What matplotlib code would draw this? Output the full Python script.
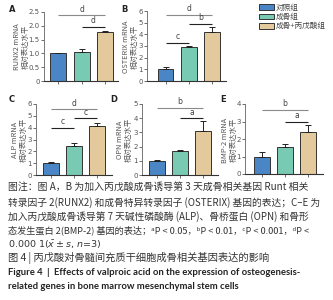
import matplotlib
matplotlib.use('Agg')
import matplotlib.pyplot as plt
from matplotlib.patches import Patch

plt.rcParams['font.family'] = ['Noto Sans CJK SC', 'DejaVu Sans']

W, H = 333, 300

grupos = ['对照组', '成骨组', '成骨+丙戊酸组']
cores = ['#4a85c6', '#79cab2', '#e3c99b']

# valores (média, erro)
runx2 = [1.00, 1.04, 1.77]
runx2_err = [0.03, 0.12, 0.05]
osterix = [1.00, 2.95, 4.20]
osterix_err = [0.17, 0.05, 0.42]
alp = [1.00, 2.45, 4.18]
alp_err = [0.12, 0.25, 0.22]
opn = [1.00, 1.72, 3.10]
opn_err = [0.05, 0.05, 0.72]
bmp2 = [1.00, 1.56, 2.42]
bmp2_err = [0.27, 0.17, 0.37]

# significância: (i, j, altura, letra)
sig_a = [(0, 2, 2.38, 'd'), (1, 2, 1.95, 'd')]
sig_b = [(0, 2, 5.70, 'd'), (1, 2, 4.88, 'b'), (0, 1, 3.30, 'c')]
sig_c = [(0, 2, 5.55, 'd'), (1, 2, 4.78, 'c'), (0, 1, 3.98, 'c')]
sig_d = [(0, 2, 4.70, 'b'), (1, 2, 3.98, 'a')]
sig_e = [(0, 2, 3.65, 'b'), (1, 2, 3.00, 'a')]

paineis = [
    # letra, gene, valores, erros, sig, ymax, yticks, caixa px (esq, dir, topo, base), xlim, pos letra, pos ylabel
    ('A', 'RUNX2', runx2, runx2_err, sig_a, 2.5, [0, 0.5, 1.0, 1.5, 2.0, 2.5],
     (44, 118, 12, 81), (-0.6, 2.55), (12, 10), (21, 47)),
    ('B', 'OSTERIX', osterix, osterix_err, sig_b, 6, range(0, 7),
     (147, 226, 11, 81), (-0.8, 2.6), (124, 10), (130, 47)),
    ('C', 'ALP', alp, alp_err, sig_c, 6, range(0, 7),
     (36, 112, 104, 175), (-0.62, 2.62), (12, 99), (19, 140)),
    ('D', 'OPN', opn, opn_err, sig_d, 5, range(0, 6),
     (142, 218, 104, 175), (-0.65, 2.65), (114, 100), (124, 140)),
    ('E', 'BMP-2', bmp2, bmp2_err, sig_e, 4, range(0, 5),
     (245, 323, 104, 174), (-0.74, 2.65), (223, 100), (229, 140)),
]

fig = plt.figure(figsize=(W / 100, H / 100), dpi=100)

for letra, gene, vals, errs, sig, ymax, yt, caixa, xlim, pl, py in paineis:
    l, r, t, b = caixa
    ax = fig.add_axes([l / W, 1 - b / H, (r - l) / W, (b - t) / H])
    x = range(len(vals))
    ax.bar(x, vals, width=0.68, color=cores, edgecolor='#333333', linewidth=0.7, zorder=2)
    ax.errorbar(x, vals, yerr=[[0] * len(errs), errs], fmt='none', ecolor='#222222',
                elinewidth=0.7, capsize=2.2, capthick=0.7, zorder=3)
    for i, j, h, s in sig:
        cor = '#8a8a8a' if (i, j) == (0, 2) else '#222222'
        ax.plot([i, j], [h, h], color=cor, lw=0.8, solid_capstyle='butt', clip_on=False)
        ax.text((i + j) / 2, h + ymax * 0.025, s, ha='center', va='bottom', fontsize=5.5,
                color='#444444', family='DejaVu Sans')
    ax.set_ylim(0, ymax)
    ax.set_xlim(*xlim)
    ax.set_yticks(list(yt))
    if letra == 'A':
        ax.set_yticklabels(['0', '0.5', '1.0', '1.5', '2.0', '2.5'])
    ax.set_xticks(list(x))
    ax.set_xticklabels([])
    for lado in ['top', 'right']:
        ax.spines[lado].set_visible(False)
    ax.spines['left'].set_color('#777777')
    ax.spines['bottom'].set_color('#333333')
    ax.spines['left'].set_linewidth(0.7)
    ax.spines['bottom'].set_linewidth(0.8)
    ax.tick_params(axis='y', labelsize=5, length=2, width=0.6, pad=1, colors='#555555')
    ax.tick_params(axis='x', length=2, width=0.6, colors='#555555')
    for lab in ax.get_yticklabels():
        lab.set_family('DejaVu Sans')
    fig.text(pl[0] / W, 1 - pl[1] / H, letra, fontsize=6, fontweight='bold',
             ha='center', va='center', family='DejaVu Sans', color='#222222')
    fig.text(py[0] / W, 1 - py[1] / H, gene + ' mRNA\n相对表达水平', rotation=90,
             fontsize=5.3, ha='center', va='center', linespacing=1.15, color='#555555')

handles = [Patch(facecolor=c, edgecolor='#333333', linewidth=0.7) for c in cores]
fig.legend(handles, grupos, loc='upper left', bbox_to_anchor=(259 / W, 1 - 4 / H),
           frameon=False, fontsize=5.5, handlelength=1.9, handleheight=0.8,
           handletextpad=0.3, labelspacing=0.15, borderpad=0, borderaxespad=0,
           labelcolor='#444444')

legenda = [
    '图注：图 A，B 为加入丙戊酸成骨诱导第 3 天成骨相关基因 Runt 相关',
    '转录因子 2(RUNX2) 和成骨特异转录因子 (OSTERIX) 基因的表达；C–E 为',
    '加入丙戊酸成骨诱导第 7 天碱性磷酸酶 (ALP)、骨桥蛋白 (OPN) 和骨形',
    '态发生蛋白 2(BMP-2) 基因的表达；ᵃP < 0.05，ᵇP < 0.01，ᶜP < 0.001，ᵈP <',
]
tamanhos = [7.1, 7.0, 7.0, 6.6]
y0 = 188
for k, linha in enumerate(legenda):
    fig.text(8 / W, 1 - (y0 + 14.1 * k) / H, linha, fontsize=tamanhos[k], ha='left',
             va='center', color='#333333')
fig.text(8 / W, 1 - (y0 + 14.1 * 4) / H, r'0.000 1($\bar{x}\pm s$, $n$=3)', fontsize=6.8,
         ha='left', va='center', color='#333333', family='DejaVu Sans')
fig.text(8 / W, 1 - (y0 + 14.1 * 5) / H, '图 4 | 丙戊酸对骨髓间充质干细胞成骨相关基因表达的影响',
         fontsize=7.4, ha='left', va='center', color='#333333')
fig.text(8 / W, 1 - (y0 + 14.1 * 6) / H,
         'Figure 4  |  Effects of valproic acid on the expression of osteogenesis-',
         fontsize=6.8, ha='left', va='center', fontweight='bold', color='#222222', family='Lato')
fig.text(8 / W, 1 - (y0 + 14.1 * 7) / H, 'related genes in bone marrow mesenchymal stem cells',
         fontsize=6.8, ha='left', va='center', fontweight='bold', color='#222222', family='Lato')

fig.savefig('out.png', dpi=100)
